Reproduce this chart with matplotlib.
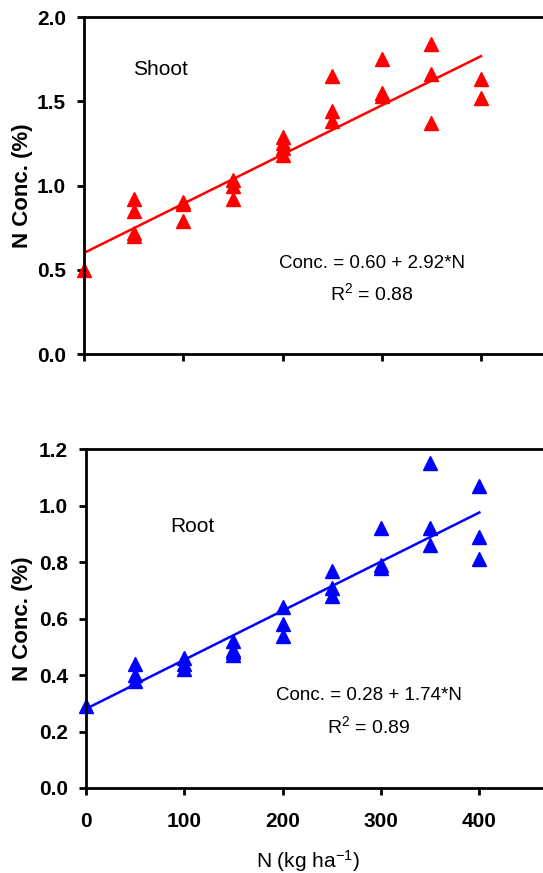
import matplotlib.pyplot as plt
import numpy as np

plt.rcParams['font.family'] = ['Liberation Sans', 'DejaVu Sans']
plt.rcParams['mathtext.fontset'] = 'custom'
plt.rcParams['mathtext.rm'] = 'Liberation Sans'
plt.rcParams['mathtext.default'] = 'regular'

# N rate (kg/ha) for each sample
shoot_n = [0, 50, 50, 50, 50, 100, 100, 100, 150, 150, 150,
           200, 200, 200, 200, 250, 250, 250, 300, 300, 300,
           350, 350, 350, 400, 400]
shoot_conc = [0.50, 0.92, 0.85, 0.72, 0.70, 0.90, 0.89, 0.79, 1.03, 1.00, 0.92,
              1.29, 1.25, 1.22, 1.18, 1.65, 1.44, 1.38, 1.75, 1.55, 1.53,
              1.84, 1.66, 1.37, 1.63, 1.52]

root_n = [0, 50, 50, 50, 100, 100, 100, 150, 150, 150, 150,
          200, 200, 200, 250, 250, 250, 300, 300, 300,
          350, 350, 350, 400, 400, 400]
root_conc = [0.29, 0.44, 0.40, 0.38, 0.46, 0.44, 0.42, 0.52, 0.49, 0.47, 0.48,
             0.64, 0.58, 0.54, 0.77, 0.71, 0.68, 0.92, 0.79, 0.78,
             1.15, 0.92, 0.86, 1.07, 0.89, 0.81]

# regression: conc = a + b * N/1000
shoot_fit = (0.60, 2.92, 0.88)
root_fit = (0.28, 1.74, 0.89)

fig = plt.figure(figsize=(5.43, 8.73), dpi=100)
ax1 = fig.add_axes([0.1547, 0.5945, 0.914, 0.386])
ax2 = fig.add_axes([0.158, 0.0974, 0.906, 0.388])


def style(ax, ylim, yticks):
    ax.set_xlim(0, 500)
    ax.set_ylim(*ylim)
    ax.set_yticks(yticks)
    ax.set_yticklabels([f"{t:.1f}" for t in yticks], fontweight='bold', fontsize=15)
    ax.set_xticks([0, 100, 200, 300, 400])
    for s in ax.spines.values():
        s.set_linewidth(2)
    ax.tick_params(direction='out', length=5, width=2)
    ax.tick_params(axis='y', pad=8)
    ax.tick_params(axis='x', pad=12)
    ax.set_ylabel("N Conc. (%)", fontsize=16, fontweight='bold')


xl = np.array([0, 400])

# shoot
style(ax1, (0, 2.0), [0.0, 0.5, 1.0, 1.5, 2.0])
ax1.plot(shoot_n, shoot_conc, '^', color='#ff0000', ms=10.5, clip_on=False)
ax1.plot(xl, shoot_fit[0] + shoot_fit[1] * xl / 1000, color='#ff0000', lw=1.8)
ax1.set_xticklabels([])
ax1.text(77, 1.69, "Shoot", fontsize=15, ha='center', va='center')
ax1.text(290, 0.54, f"Conc. = {shoot_fit[0]:.2f} + {shoot_fit[1]:.2f}*N",
         fontsize=13.5, ha='center', va='center')
ax1.text(290, 0.36, f"R$^2$ = {shoot_fit[2]:.2f}", fontsize=14, ha='center', va='center')
ax1.yaxis.set_label_coords(-0.103, 0.5)

# root
style(ax2, (0, 1.2), [0.0, 0.2, 0.4, 0.6, 0.8, 1.0, 1.2])
ax2.plot(root_n, root_conc, '^', color='#0000ff', ms=10.5, clip_on=False)
ax2.plot(xl, root_fit[0] + root_fit[1] * xl / 1000, color='#0000ff', lw=1.8)
ax2.set_xticklabels(['0', '100', '200', '300', '400'], fontweight='bold', fontsize=15)
ax2.text(108, 0.928, "Root", fontsize=15, ha='center', va='center')
ax2.text(288, 0.327, f"Conc. = {root_fit[0]:.2f} + {root_fit[1]:.2f}*N",
         fontsize=13.5, ha='center', va='center')
ax2.text(288, 0.218, f"R$^2$ = {root_fit[2]:.2f}", fontsize=14, ha='center', va='center')
ax2.set_xlabel("N (kg ha$^{-1}$)", fontsize=15)
ax2.xaxis.set_label_coords(0.451, -0.178)
ax2.yaxis.set_label_coords(-0.108, 0.5)

fig.savefig("out.png", dpi=100)
